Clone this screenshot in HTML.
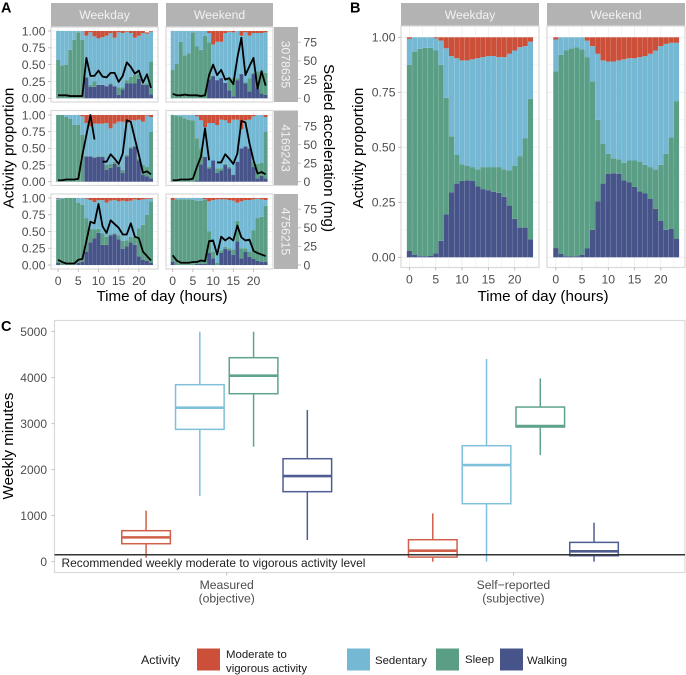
<!DOCTYPE html>
<html lang="en">
<head>
<meta charset="utf-8">
<title>Activity proportion chart</title>
<style>
html,body{margin:0;padding:0;background:#fff;width:686px;height:675px;overflow:hidden}
svg{display:block;font-family:"Liberation Sans",Arial,sans-serif;filter:blur(0.3px)}
</style>
</head>
<body>
<svg id="figure" width="686" height="675" viewBox="0 0 686 675" xmlns="http://www.w3.org/2000/svg">
  <rect width="686" height="675" fill="#fff"/>
  <text x="1" y="12.5" font-size="14.5" font-weight="700" fill="#000">A</text>
  <text x="350" y="12.5" font-size="14.5" font-weight="700" fill="#000">B</text>
  <text x="1" y="331" font-size="14.5" font-weight="700" fill="#000">C</text>

  <text transform="translate(13.5,148) rotate(-90)" text-anchor="middle" font-size="15.2" fill="#000">Activity proportion</text>
  <text transform="translate(324,148) rotate(90)" text-anchor="middle" font-size="15.2" fill="#000">Scaled acceleration (mg)</text>
  <text x="162" y="301" text-anchor="middle" font-size="15.2" fill="#000">Time of day (hours)</text>
  <text transform="translate(363,148) rotate(-90)" text-anchor="middle" font-size="15.2" fill="#000">Activity proportion</text>
  <text x="543" y="301" text-anchor="middle" font-size="15.2" fill="#000">Time of day (hours)</text>
  <text transform="translate(13,446) rotate(-90)" text-anchor="middle" font-size="15.2" fill="#000">Weekly minutes</text>

  <g id="panel-a"></g>
  <g id="panel-b"></g>
  <g id="panel-c"></g>

  <g font-size="11.4" fill="#1a1a1a">
    <text x="141" y="664" font-size="12.4">Activity</text>
    <rect x="197" y="648.5" width="23" height="22" fill="#CB4F39"/>
    <text x="226" y="658">Moderate to</text>
    <text x="226" y="672">vigorous activity</text>
    <rect x="347" y="648.5" width="23" height="22" fill="#74B8D3"/>
    <text x="375" y="664">Sedentary</text>
    <rect x="436" y="648.5" width="23" height="22" fill="#5A9E85"/>
    <text x="465" y="663">Sleep</text>
    <rect x="500" y="648.5" width="23" height="22" fill="#46548A"/>
    <text x="527" y="664">Walking</text>
  </g>
</svg>
<script>
/* ---------- shared tick labels ---------- */
const proportionTicks = [0, 0.25, 0.5, 0.75, 1];
const proportionMinorTicks = [0.125, 0.375, 0.625, 0.875];
const hourTicks = [0, 5, 10, 15, 20];
const hourMinorTicks = [2.5, 7.5, 12.5, 17.5, 22.5];
const accelerationTicks = [0, 25, 50, 75];
const hours = [0,1,2,3,4,5,6,7,8,9,10,11,12,13,14,15,16,17,18,19,20,21,22,23];
const participantIds = ['3078635', '4169243', '4756215'];
const dayTypes = ['Weekday', 'Weekend'];

/* ---------- panel A : participant 3078635 ---------- */
const p1WeekdayWalking = [0,0,0,0,0,0,0,.31,.17,.17,.20,.20,.18,.21,.18,.05,.13,.22,.22,.22,.29,.20,.20,.06];
const p1WeekdaySleep = [.57,.49,.50,.72,.87,.98,.87,0,.03,.08,0,0,0,.01,0,.11,.03,.05,.10,.13,.07,.02,.02,.49];
const p1WeekdaySedentary = [.43,.51,.50,.28,.13,.02,.13,.62,.78,.67,.69,.71,.75,.75,.72,.82,.81,.72,.65,.55,.57,.75,.74,.44];
const p1WeekdayMvpa = [0,0,0,0,0,0,0,.07,.02,.08,.11,.09,.07,.03,.10,.02,.03,.01,.03,.10,.07,.03,.02,.01];
const p1WeekdayAccel = [4,4,4,3,3,3,3,54,30,30,37,29,28,34,34,22,30,48,42,33,37,21,32,14];

const p1WeekendWalking = [0,0,0,0,0,0,0,0,0,.28,.33,.27,.30,.23,.12,.03,.27,.36,.22,.10,.36,.15,.07,.05];
const p1WeekendSleep = [.42,.51,.84,.64,.67,.98,.77,.72,.93,.55,0,0,0,0,.18,.27,.03,0,.02,.20,.02,.25,.35,.33];
const p1WeekendSedentary = [.58,.49,.16,.36,.33,.02,.23,.28,.07,.14,.47,.57,.54,.74,.69,.68,.70,.57,.74,.63,.59,.57,.55,.60];
const p1WeekendMvpa = [0,0,0,0,0,0,0,0,0,.03,.20,.16,.16,.03,.01,.02,0,.07,.02,.07,.03,.03,.03,.02];
const p1WeekendAccel = [6,4,4,5,4,4,4,3,4,31,45,31,38,25,27,19,54,81,31,43,54,13,36,17];

/* ---------- panel A : participant 4169243 ---------- */
const p2WeekdayWalking = [0,0,0,0,0,0,0,.38,.38,.36,.37,.37,.18,.21,.27,.22,.13,.38,.50,.53,.32,.10,.08,.05];
const p2WeekdaySleep = [1,1,.97,.94,.85,.85,.70,0,0,.01,.01,.01,.07,.06,.03,.03,.05,.02,.02,0,.02,.15,.14,.70];
const p2WeekdaySedentary = [0,0,.03,.06,.15,.15,.28,.50,.45,.50,.49,.49,.63,.53,.57,.65,.72,.48,.40,.39,.59,.65,.77,.22];
const p2WeekdayMvpa = [0,0,0,0,0,0,.02,.12,.17,.13,.13,.13,.12,.20,.13,.10,.10,.12,.08,.08,.07,.10,.01,.03];
const p2WeekdayAccel = [2,2,3,3,3,4,36,63,90,57,null,27,27,37,31,24,38,83,81,58,36,12,14,10];

const p2WeekendWalking = [0,0,0,0,0,0,.02,.26,.37,.20,.32,.13,.17,.25,.20,.10,.30,.50,.53,.50,.22,.05,.09,.05];
const p2WeekendSleep = [1,.99,.98,.95,.93,.92,.63,.24,0,.02,0,.07,.03,.02,.02,.01,0,0,0,0,.08,.22,.19,.70];
const p2WeekendSedentary = [0,.01,.02,.05,.07,.08,.33,.42,.45,.66,.56,.65,.73,.65,.66,.82,.63,.29,.39,.43,.68,.73,.72,.22];
const p2WeekendMvpa = [0,0,0,0,0,0,.02,.08,.18,.12,.12,.15,.07,.08,.12,.07,.07,.21,.08,.07,.02,0,0,.03];
const p2WeekendAccel = [2,2,3,3,3,4,20,34,72,29,null,26,26,37,31,24,38,82,80,52,29,11,13,10];

/* ---------- panel A : participant 4756215 ---------- */
const p3WeekdayWalking = [.03,0,0,0,0,.03,.05,.20,.34,.40,.48,.30,.30,.44,.46,.38,.24,.28,.34,.30,.13,.08,.06,.03];
const p3WeekdaySleep = [.94,.99,1,1,1,.90,.85,.50,.20,.13,.06,.17,.12,.02,.01,.06,.12,.09,.08,.12,.42,.52,.69,.92];
const p3WeekdaySedentary = [.02,.01,0,0,0,.07,.10,.29,.43,.41,.43,.50,.51,.50,.50,.51,.60,.58,.54,.56,.42,.38,.24,.04];
const p3WeekdayMvpa = [.01,0,0,0,0,0,0,.01,.03,.06,.03,.03,.07,.04,.03,.05,.04,.05,.04,.02,.03,.02,.01,.01];
const p3WeekdayAccel = [7,4,2,2,2,7,8,32,58,56,82,52,43,60,55,50,41,41,56,38,36,18,12,6];

const p3WeekendWalking = [.05,0,0,0,0,0,.02,.02,.02,.18,.10,0,.18,.24,.22,.15,.35,.10,.20,.12,.09,.06,.05,.05];
const p3WeekendSleep = [.92,.98,.98,.98,.98,.97,.94,.94,.95,.32,.10,.03,.04,.03,.03,.08,.31,.15,.05,.08,.43,.64,.67,.83];
const p3WeekendSedentary = [0,.02,.02,.02,.02,.03,.04,.04,.01,.45,.77,.95,.76,.71,.72,.73,.27,.70,.72,.77,.46,.29,.26,.09];
const p3WeekendMvpa = [.03,0,0,0,0,0,0,0,.02,.05,.03,.02,.02,.02,.03,.04,.07,.05,.03,.03,.02,.01,.02,.03];
const p3WeekendAccel = [13,6,3,3,3,4,4,6,5,32,33,14,38,33,37,33,53,37,33,34,19,16,14,12];

/* ---------- panel B : group averages ---------- */
const groupWeekdayWalking = [.03,.012,.005,.005,.006,.018,.075,.195,.295,.335,.347,.35,.347,.322,.31,.305,.298,.293,.275,.235,.175,.135,.135,.082];
const groupWeekdaySleep = [.845,.923,.943,.947,.946,.922,.80,.53,.255,.13,.076,.065,.063,.078,.10,.105,.112,.117,.125,.16,.24,.325,.405,.638];
const groupWeekdaySedentary = [.118,.065,.052,.048,.048,.055,.11,.225,.365,.44,.472,.48,.49,.505,.50,.505,.505,.50,.51,.53,.525,.495,.42,.26];
const groupWeekdayMvpa = [.007,0,0,0,0,.005,.015,.05,.085,.095,.105,.105,.10,.095,.09,.085,.085,.09,.09,.075,.06,.045,.04,.02];

const groupWeekendWalking = [.042,.015,.005,.004,.005,.012,.04,.125,.255,.335,.38,.382,.38,.35,.34,.32,.30,.29,.265,.22,.165,.125,.13,.085];
const groupWeekendSleep = [.803,.905,.935,.946,.95,.933,.87,.675,.37,.18,.09,.068,.065,.08,.10,.12,.135,.13,.145,.18,.255,.345,.415,.625];
const groupWeekendSedentary = [.145,.08,.06,.05,.045,.055,.075,.16,.30,.38,.42,.44,.45,.47,.465,.465,.475,.495,.515,.54,.54,.50,.43,.265];
const groupWeekendMvpa = [.01,0,0,0,0,0,.015,.04,.075,.105,.11,.11,.105,.10,.095,.095,.09,.085,.075,.06,.04,.03,.025,.025];

/* ---------- panel C : box-plot statistics (weekly minutes) ---------- */
const boxCategories = [['Measured','(objective)'], ['Self\u2212reported','(subjective)']];
const boxActivities = ['moderate', 'sedentary', 'sleep', 'walking'];
const weeklyMinuteTicks = [0, 1000, 2000, 3000, 4000, 5000];
const recommendedMinutes = 150;
const measuredLow = [87, 1427, 2500, 471];
const measuredQ1 = [391, 2877, 3652, 1522];
const measuredMedian = [529, 3348, 4043, 1862];
const measuredQ3 = [674, 3848, 4435, 2239];
const measuredHigh = [1109, 5000, 5000, 3297];
const selfReportedLow = [0, 0, 2319, 0];
const selfReportedQ1 = [100, 1261, 2927, 130];
const selfReportedMedian = [239, 2101, 2949, 225];
const selfReportedQ3 = [478, 2522, 3362, 420];
const selfReportedHigh = [1050, 4406, 3985, 848];

/* ---------- colours and helpers ---------- */
const RED = '#CB4F39', SKY = '#74B8D3', GREEN = '#5A9E85', NAVY = '#46548A';
const boxColors = ['#D0604B', '#7FC0DA', '#5FA38B', '#4F5D92'];
const NS = 'http://www.w3.org/2000/svg';
const GRID = '#ededed', FRAME = '#d9d9d9', STRIP = '#b3b3b3', TICK = '#b3b3b3', TICKTXT = '#4d4d4d';

function linear(d0, d1, r0, r1) {
  return function (v) { return r0 + (v - d0) * (r1 - r0) / (d1 - d0); };
}
function el(tag, parent, attrs, text) {
  const n = document.createElementNS(NS, tag);
  for (const k in attrs) n.setAttribute(k, attrs[k]);
  if (text !== undefined) n.textContent = text;
  parent.appendChild(n);
  return n;
}
function seg(parent, x1, y1, x2, y2, stroke, w) {
  const n = el('line', parent, {x1: x1, y1: y1, x2: x2, y2: y2, stroke: stroke, 'stroke-width': w});
  
  return n;
}

/* draws grid, stacked bars and frame for one facet */
function drawFacet(root, name, frame, x, y, series, accel, yAccel) {
  const g = el('g', root, {});
  
  

  const bg = el('rect', g, {x: frame.x0, y: frame.y0, width: frame.x1 - frame.x0, height: frame.y1 - frame.y0, fill: '#fff'});
  
  

  proportionMinorTicks.forEach(function (t) {
    const l = seg(g, frame.x0, y(t), frame.x1, y(t), GRID, 0.5);
    
  });
  proportionTicks.forEach(function (t) {
    const l = seg(g, frame.x0, y(t), frame.x1, y(t), GRID, 0.8);
    
  });
  hourMinorTicks.forEach(function (t) {
    const l = seg(g, x(t), frame.y0, x(t), frame.y1, GRID, 0.5);
    
  });
  hourTicks.forEach(function (t) {
    const l = seg(g, x(t), frame.y0, x(t), frame.y1, GRID, 0.8);
    
  });

  const slot = x(1) - x(0);
  hours.forEach(function (h, i) {
    let base = 0;
    series.forEach(function (s) {
      const v = s.values[i];
      if (v > 0) {
        const r = el('rect', g, {
          x: x(h) - slot * 0.485,
          y: y(base + v),
          width: slot * 0.97,
          height: y(base) - y(base + v),
          fill: s.color
        });
        
        
      }
      base += v;
    });
  });

  if (accel) {
    let d = '';
    let pen = false;
    accel.forEach(function (v, i) {
      if (v === null) { pen = false; return; }
      d += (pen ? 'L' : 'M') + x(hours[i]).toFixed(2) + ' ' + yAccel(v).toFixed(2);
      pen = true;
    });
    const p = el('path', g, {d: d, fill: 'none', stroke: '#000', 'stroke-width': 1.8, 'stroke-linejoin': 'round'});
    
    
  }

  const f = el('rect', g, {x: frame.x0, y: frame.y0, width: frame.x1 - frame.x0, height: frame.y1 - frame.y0, fill: 'none', stroke: FRAME, 'stroke-width': 1.2});
  
  
}

function drawStrip(root, name, x0, y0, x1, y1, label, rotate) {
  const r = el('rect', root, {x: x0, y: y0, width: x1 - x0, height: y1 - y0, fill: STRIP});
  
  
  const cx = (x0 + x1) / 2, cy = (y0 + y1) / 2;
  const attrs = {'text-anchor': 'middle', 'font-size': 12.2, fill: '#f2f2f2'};
  if (rotate) {
    attrs.transform = 'translate(' + (cx - 4.3) + ',' + cy + ') rotate(90)';
  } else {
    attrs.x = cx;
    attrs.y = cy + 4.4;
  }
  const t = el('text', root, attrs, label);
  
  
}

function drawLeftTicks(root, y, xEdge) {
  proportionTicks.forEach(function (t) {
    const l = seg(root, xEdge - 3, y(t), xEdge, y(t), TICK, 0.8);
    
    const s = el('text', root, {x: xEdge - 5.5, y: y(t) + 4.3, 'text-anchor': 'end', 'font-size': 12.2, fill: TICKTXT}, t.toFixed(2));
    
    
  });
}
function drawBottomTicks(root, x, yEdge) {
  hourTicks.forEach(function (t) {
    const l = seg(root, x(t), yEdge, x(t), yEdge + 3, TICK, 0.8);
    
    const s = el('text', root, {x: x(t), y: yEdge + 16, 'text-anchor': 'middle', 'font-size': 12.2, fill: TICKTXT}, String(t));
    
    
  });
}

/* ---------- panel A ---------- */
const panelA = document.getElementById('panel-a');
const aRows = [
  {id: participantIds[0], top: 27, y1: 31, y0: 98.3,
   wd: [p1WeekdayWalking, p1WeekdaySleep, p1WeekdaySedentary, p1WeekdayMvpa], wdLine: p1WeekdayAccel,
   we: [p1WeekendWalking, p1WeekendSleep, p1WeekendSedentary, p1WeekendMvpa], weLine: p1WeekendAccel},
  {id: participantIds[1], top: 110.5, y1: 115, y0: 181.7,
   wd: [p2WeekdayWalking, p2WeekdaySleep, p2WeekdaySedentary, p2WeekdayMvpa], wdLine: p2WeekdayAccel,
   we: [p2WeekendWalking, p2WeekendSleep, p2WeekendSedentary, p2WeekendMvpa], weLine: p2WeekendAccel},
  {id: participantIds[2], top: 194, y1: 198, y0: 265,
   wd: [p3WeekdayWalking, p3WeekdaySleep, p3WeekdaySedentary, p3WeekdayMvpa], wdLine: p3WeekdayAccel,
   we: [p3WeekendWalking, p3WeekendSleep, p3WeekendSedentary, p3WeekendMvpa], weLine: p3WeekendAccel}
];
function stackOf(a) {
  return [
    {key: 'walking', color: NAVY, values: a[0]},
    {key: 'sleep', color: GREEN, values: a[1]},
    {key: 'sedentary', color: SKY, values: a[2]},
    {key: 'moderate', color: RED, values: a[3]}
  ];
}
const xAWeekday = linear(0, 20, 58.1, 138.9);
const xAWeekend = linear(0, 20, 172.7, 253.5);

drawStrip(panelA, 'a-strip-weekday', 51, 3, 158, 26.5, dayTypes[0], false);
drawStrip(panelA, 'a-strip-weekend', 166, 3, 273, 26.5, dayTypes[1], false);

aRows.forEach(function (row, idx) {
  const y = linear(0, 1, row.y0, row.y1);
  const yAccel = linear(0, 90, row.y0, row.y1);
  const frameWd = {x0: 51, x1: 158, y0: row.top, y1: row.top + 75};
  const frameWe = {x0: 166, x1: 273, y0: row.top, y1: row.top + 75};
  drawFacet(panelA, 'a-facet-' + row.id + '-weekday', frameWd, xAWeekday, y, stackOf(row.wd), row.wdLine, yAccel);
  drawFacet(panelA, 'a-facet-' + row.id + '-weekend', frameWe, xAWeekend, y, stackOf(row.we), row.weLine, yAccel);
  drawStrip(panelA, 'a-strip-participant-' + row.id, 274, row.top, 298, row.top + 75, row.id, true);
  drawLeftTicks(panelA, y, 51);
  accelerationTicks.forEach(function (t) {
    const l = seg(panelA, 298, yAccel(t), 301, yAccel(t), TICK, 0.8);
    
    const s = el('text', panelA, {x: 303.5, y: yAccel(t) + 4.3, 'font-size': 12.2, fill: TICKTXT}, String(t));
    
    
  });
  if (idx === 2) {
    drawBottomTicks(panelA, xAWeekday, row.top + 75);
    drawBottomTicks(panelA, xAWeekend, row.top + 75);
  }
});

/* ---------- panel B ---------- */
const panelB = document.getElementById('panel-b');
const yB = linear(0, 1, 257.3, 37.3);
const xBWeekday = linear(0, 20, 409.4, 514.7);
const xBWeekend = linear(0, 20, 555.8, 660.8);
drawStrip(panelB, 'b-strip-weekday', 401, 3, 539, 26, dayTypes[0], false);
drawStrip(panelB, 'b-strip-weekend', 547, 3, 685, 26, dayTypes[1], false);
drawFacet(panelB, 'b-facet-weekday', {x0: 401, x1: 539, y0: 26, y1: 267.5}, xBWeekday, yB,
  stackOf([groupWeekdayWalking, groupWeekdaySleep, groupWeekdaySedentary, groupWeekdayMvpa]), null, null);
drawFacet(panelB, 'b-facet-weekend', {x0: 547, x1: 685, y0: 26, y1: 267.5}, xBWeekend, yB,
  stackOf([groupWeekendWalking, groupWeekendSleep, groupWeekendSedentary, groupWeekendMvpa]), null, null);
drawLeftTicks(panelB, yB, 401);
drawBottomTicks(panelB, xBWeekday, 267.5);
drawBottomTicks(panelB, xBWeekend, 267.5);

/* ---------- panel C ---------- */
const panelC = document.getElementById('panel-c');
const yC = linear(0, 5000, 561.7, 331.7);
const xGroup = linear(0, 1, 226.7, 513.4);
const dodge = 53.75, boxW = 48.6;

const cFrame = el('rect', panelC, {x: 54.5, y: 320.5, width: 630.5, height: 252, fill: '#fff', stroke: FRAME, 'stroke-width': 1.2});



weeklyMinuteTicks.forEach(function (t) {
  const l = seg(panelC, 51.5, yC(t), 54.5, yC(t), TICK, 0.8);
  
  const s = el('text', panelC, {x: 47, y: yC(t) + 4.3, 'text-anchor': 'end', 'font-size': 12, fill: TICKTXT}, String(t));
  
  
});

boxCategories.forEach(function (lines, gi) {
  const cx = xGroup(gi);
  const l = seg(panelC, cx, 572.5, cx, 575.5, TICK, 0.8);
  
  lines.forEach(function (txt, li) {
    const t = el('text', panelC, {x: cx, y: 589 + li * 13.4, 'text-anchor': 'middle', 'font-size': 12.2, fill: TICKTXT}, txt);
    
    
  });
});

function drawBoxes(gi, low, q1, med, q3, high, groupName) {
  boxActivities.forEach(function (act, i) {
    const cx = xGroup(gi) + (i - 1.5) * dodge;
    const color = boxColors[i];
    const g = el('g', panelC, {});
    
    
    const up = seg(g, cx, yC(q3[i]), cx, yC(high[i]), color, 1.5);
    
    const down = seg(g, cx, yC(q1[i]), cx, yC(low[i]), color, 1.5);
    
    const r = el('rect', g, {x: cx - boxW / 2, y: yC(q3[i]), width: boxW, height: yC(q1[i]) - yC(q3[i]), fill: 'none', stroke: color, 'stroke-width': 1.5});
    
    
    const m = seg(g, cx - boxW / 2, yC(med[i]), cx + boxW / 2, yC(med[i]), color, 2.6);
    
  });
}
drawBoxes(0, measuredLow, measuredQ1, measuredMedian, measuredQ3, measuredHigh, 'measured');
drawBoxes(1, selfReportedLow, selfReportedQ1, selfReportedMedian, selfReportedQ3, selfReportedHigh, 'self-reported');

const recLine = seg(panelC, 54.5, yC(recommendedMinutes), 685, yC(recommendedMinutes), '#333333', 1.5);

const recText = el('text', panelC, {x: 61.5, y: 567, 'font-size': 11.95, fill: '#1f1f1f'}, 'Recommended weekly moderate to vigorous activity level');


</script>
</body>
</html>
